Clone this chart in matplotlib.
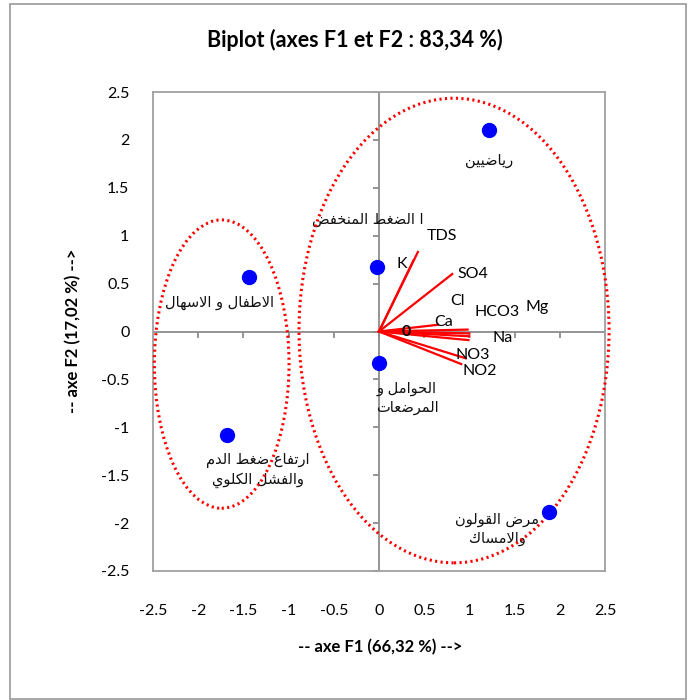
import numpy as np
import matplotlib
matplotlib.use('Agg')
import matplotlib.pyplot as plt
from matplotlib.patches import Ellipse, Rectangle

plt.rcParams['font.family'] = ['Lato', 'DejaVu Sans']

# observations (F1, F2)
obs_x = [1.22, -0.02, -1.44, 0.0, -1.68, 1.88]
obs_y = [2.10, 0.67, 0.57, -0.33, -1.08, -1.88]
obs_names = ['رياضيين', 'ا الضغط المنخفض', 'الاطفال و الاسهال',
             'الحوامل و\nالمرضعات', 'ارتفاع ضغط الدم\nوالفشل الكلوي',
             'مرض القولون\nوالامساك']
obs_lab_x = [1.22, -0.12, -1.76, 0.31, -1.34, 1.31]
obs_lab_y = [1.79, 1.17, 0.30, -0.69, -1.45, -2.06]

# variables (loadings)
var_names = ['TDS', 'K', 'SO4', 'Cl', 'HCO3', 'Mg', 'Ca', 'Na', 'NO3', 'NO2']
var_x = [0.43, 0.38, 0.81, 0.98, 1.00, 1.00, 0.65, 0.99, 0.96, 0.91]
var_y = [0.83, 0.74, 0.60, 0.02, -0.02, -0.05, 0.07, -0.09, -0.28, -0.34]
var_lab_x = [0.70, 0.25, 1.04, 0.87, 1.31, 1.75, 0.71, 1.37, 1.04, 1.12]
var_lab_y = [1.00, 0.70, 0.60, 0.32, 0.20, 0.26, 0.10, -0.07, -0.25, -0.41]

ticks = [-2.5, -2, -1.5, -1, -0.5, 0, 0.5, 1, 1.5, 2, 2.5]

# crude arabic shaping (matplotlib has no bidi / joining)
ISO = {'ا': 0xFE8D, 'ب': 0xFE8F, 'ت': 0xFE95, 'ح': 0xFEA1, 'خ': 0xFEA5,
       'د': 0xFEA9, 'ر': 0xFEAD, 'س': 0xFEB1, 'ش': 0xFEB5, 'ص': 0xFEB9,
       'ض': 0xFEBD, 'ط': 0xFEC1, 'ع': 0xFEC9, 'غ': 0xFECD, 'ف': 0xFED1,
       'ق': 0xFED5, 'ك': 0xFED9, 'ل': 0xFEDD, 'م': 0xFEE1, 'ن': 0xFEE5,
       'ه': 0xFEE9, 'و': 0xFEED, 'ي': 0xFEF1}
RIGHT_ONLY = set('ادذرزو')


def shape_line(s):
    out = []
    i = 0
    n = len(s)
    while i < n:
        c = s[i]
        prev_j = i > 0 and s[i-1] in ISO and s[i-1] not in RIGHT_ONLY
        if c == 'ل' and i + 1 < n and s[i+1] == 'ا':
            out.append(chr(0xFEFC if prev_j else 0xFEFB))
            i += 2
            continue
        if c not in ISO:
            out.append(c)
            i += 1
            continue
        next_j = c not in RIGHT_ONLY and i + 1 < n and s[i+1] in ISO
        b = ISO[c]
        if prev_j and next_j:
            f = b + 3
        elif prev_j:
            f = b + 1
        elif next_j:
            f = b + 2
        else:
            f = b
        out.append(chr(f))
        i += 1
    return ''.join(reversed(out))


def ar(s):
    return '\n'.join(shape_line(l) for l in s.split('\n'))


fig = plt.figure(figsize=(6.88, 7.0), dpi=100)
ax = fig.add_axes([153/688, 1-571/700, 452/688, 479/700])

gray = '#8c8c8c'
ax.axhline(0, color=gray, lw=1.3, zorder=1)
ax.axvline(0, color=gray, lw=1.3, zorder=1)
ax.plot(ticks, np.zeros(len(ticks)), ls='none', marker=3, ms=4, mew=1.3, color=gray, zorder=1)
ax.plot(np.zeros(len(ticks)), ticks, ls='none', marker=0, ms=4, mew=1.3, color=gray, zorder=1)

for vx, vy in zip(var_x, var_y):
    ax.plot([0, vx], [0, vy], color='red', lw=1.6, zorder=2)
for nm, lx, ly in zip(var_names, var_lab_x, var_lab_y):
    ax.text(lx, ly, nm, fontsize=11.5, ha='center', va='center', color='black')
ax.text(0.30, 0.0, '0', fontsize=11.5, fontweight='bold', ha='center', va='center')

ax.plot(obs_x, obs_y, 'o', color='blue', ms=10, zorder=4, clip_on=False)
for nm, lx, ly in zip(obs_names, obs_lab_x, obs_lab_y):
    ax.text(lx, ly, ar(nm), fontsize=10.5, ha='center', va='center',
            family='DejaVu Sans', color='#111111', linespacing=1.3)

for cx, cy, w, h in [(-1.74, -0.34, 1.49, 3.01), (0.83, 0.01, 3.43, 4.85)]:
    ax.add_patch(Ellipse((cx, cy), w, h, fill=False, ec='red', lw=2.2,
                         ls=(0, (0.7, 1.1)), zorder=3, clip_on=False))

ax.set_xlim(-2.5, 2.5)
ax.set_ylim(-2.5, 2.5)
ax.set_xticks(ticks)
ax.set_yticks(ticks)
ax.set_xticklabels([('%g' % t) for t in ticks])
ax.set_yticklabels([('%g' % t) for t in ticks])
ax.tick_params(length=0, labelsize=11.5, labelcolor='black')
ax.tick_params(axis='x', pad=24)
ax.tick_params(axis='y', pad=17)
for sp in ax.spines.values():
    sp.set_color('#a0a0a0')
    sp.set_linewidth(1.3)

fig.text(355/688, 1-40/700, 'Biplot (axes F1 et F2 : 83,34 %)', fontsize=15.5,
         fontweight='bold', ha='center', va='center')
fig.text(380/688, 1-647/700, '-- axe F1 (66,32 %) -->', fontsize=12,
         fontweight='bold', ha='center', va='center')
fig.text(73/688, 1-331/700, '-- axe F2 (17,02 %) -->', fontsize=12,
         fontweight='bold', ha='center', va='center', rotation=90)

fig.add_artist(Rectangle((10/688, 1/700), 676/688, 695/700, transform=fig.transFigure,
                         fill=False, ec='#a0a0a0', lw=1.3))

fig.savefig('out.png', dpi=100)
